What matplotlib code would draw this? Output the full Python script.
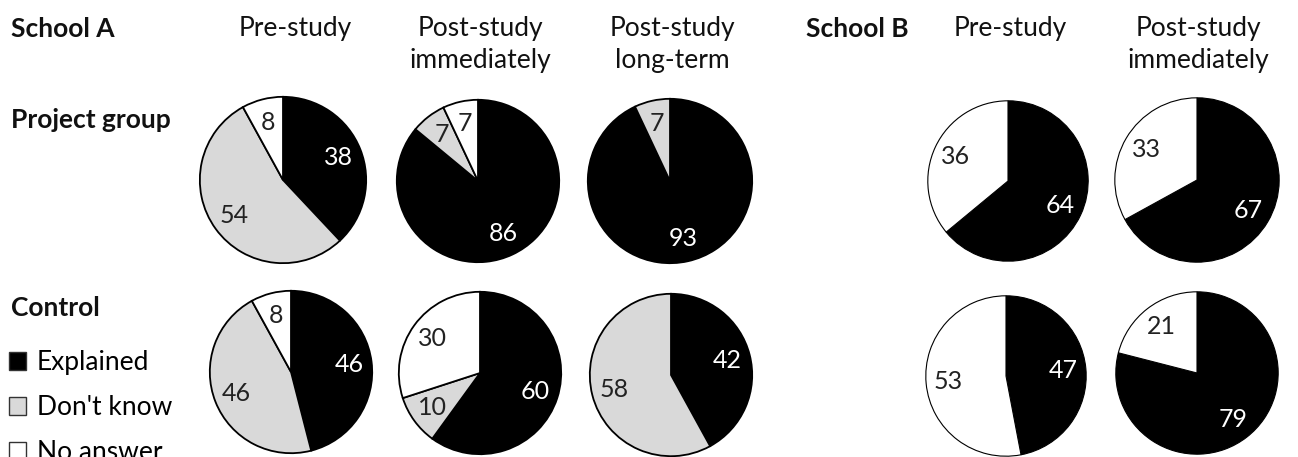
from matplotlib import pyplot as plt
from matplotlib.patches import Patch

plt.rcParams['font.family'] = ['Lato', 'DejaVu Sans']

categories = ["Explained", "Don't know", "No answer"]
colors = ["black", "#d9d9d9", "white"]
text_colors = ["white", "#222222", "#222222"]

# values per pie: [explained, don't know, no answer]
school_a_project = [[38, 54, 8], [86, 7, 7], [93, 7, 0]]
school_a_control = [[46, 46, 8], [60, 10, 30], [42, 58, 0]]
school_b_project = [[64, 0, 36], [67, 0, 33]]
school_b_control = [[47, 0, 53], [79, 0, 21]]

col_titles_a = ["Pre-study", "Post-study\nimmediately", "Post-study\nlong-term"]
col_titles_b = ["Pre-study", "Post-study\nimmediately"]

W, H = 1298, 457
fig = plt.figure(figsize=(W / 100, H / 100), dpi=100)

# pixel centres and radii of the pies
pos_a_project = [(283, 180, 84), (478, 181, 82), (670, 181, 83)]
pos_a_control = [(291, 372, 82), (480, 373, 82), (671, 375, 82)]
pos_b_project = [(1008, 181, 81), (1197, 180, 83)]
pos_b_control = [(1006, 376, 81), (1197, 373, 82)]


def draw_pie(values, pos, lw):
    cx, cy, r = pos
    ax = fig.add_axes([(cx - r) / W, 1 - (cy + r) / H, 2 * r / W, 2 * r / H])
    vals = [v for v in values if v > 0]
    cols = [c for v, c in zip(values, colors) if v > 0]
    tcols = [c for v, c in zip(values, text_colors) if v > 0]
    wedges, texts = ax.pie(vals, colors=cols, startangle=90, counterclock=False,
                           labels=[str(v) for v in vals], labeldistance=0.72,
                           wedgeprops=dict(edgecolor="black", linewidth=lw),
                           textprops=dict(fontsize=18, ha="center", va="center"))
    for t, c in zip(texts, tcols):
        t.set_color(c)
    ax.set_xlim(-1.01, 1.01)
    ax.set_ylim(-1.01, 1.01)
    ax.set_aspect("equal")
    ax.axis("off")


for vals, pos in zip(school_a_project, pos_a_project):
    draw_pie(vals, pos, 1.3)
for vals, pos in zip(school_a_control, pos_a_control):
    draw_pie(vals, pos, 1.3)
for vals, pos in zip(school_b_project, pos_b_project):
    draw_pie(vals, pos, 0.8)
for vals, pos in zip(school_b_control, pos_b_control):
    draw_pie(vals, pos, 0.8)


def ftext(x, y, s, **kw):
    fig.text(x / W, 1 - y / H, s, fontsize=19, color="#111111", va="baseline", **kw)


ftext(11, 37, "School A", weight="bold")
ftext(806, 37, "School B", weight="bold")
ftext(11, 128, "Project group", weight="bold")
ftext(11, 316, "Control", weight="bold")

for titles, xs in [(col_titles_a, [295, 480, 672]), (col_titles_b, [1010, 1198])]:
    for title, x in zip(titles, xs):
        for i, line in enumerate(title.split("\n")):
            ftext(x, 36 + 32 * i, line, ha="center")

handles = [Patch(facecolor=c, edgecolor="#333333", linewidth=1) for c in colors]
fig.legend(handles, categories, loc="upper left", bbox_to_anchor=(9 / W, 1 - 350 / H),
           frameon=False, fontsize=19, handlelength=0.65, handleheight=0.65,
           handletextpad=0.4, labelspacing=0.76, borderaxespad=0, borderpad=0)

fig.savefig("out.png", dpi=100)
